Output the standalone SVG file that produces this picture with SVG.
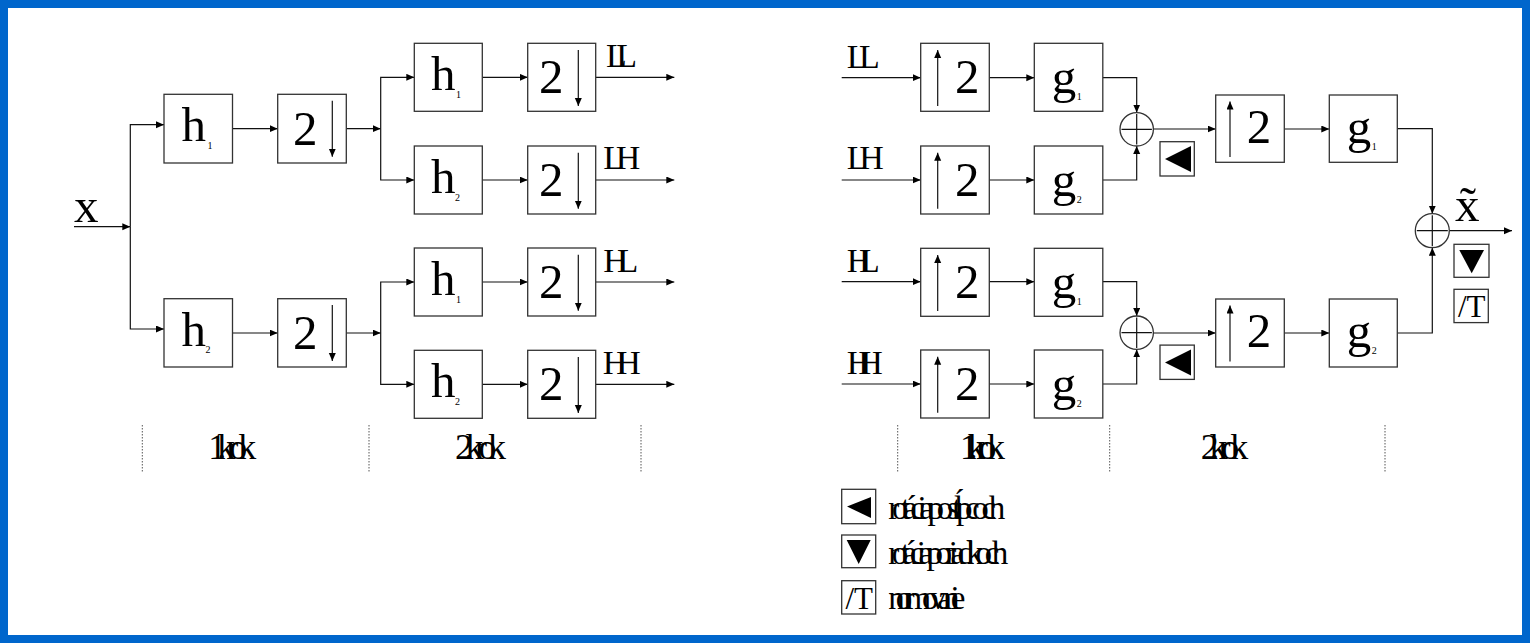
<svg xmlns="http://www.w3.org/2000/svg" width="1530" height="643" viewBox="0 0 1530 643">
<style>
.box{fill:#fff;stroke:#333;stroke-width:1.3}
.w{fill:none;stroke:#111;stroke-width:1.2}
.t{font-family:"Liberation Serif","Times New Roman",serif;fill:#000}
.big{font-size:49px}
.sub{font-size:10px}
.lbl{font-size:34px}
.step{font-size:36px}
.leg{font-size:33px}
.dot{stroke:#555;stroke-width:1;stroke-dasharray:1.5,1.5}
.tri{fill:#000}
</style>
<defs>
<marker id="ah" markerUnits="userSpaceOnUse" markerWidth="9" markerHeight="8" refX="8" refY="3.5" orient="auto">
<path d="M0,0 L8,3.5 L0,7 z" fill="#000"/>
</marker>
</defs>
<rect x="0" y="0" width="1530" height="643" fill="#0066CC"/>
<rect x="8" y="8" width="1514" height="627" fill="#fff"/>

<g id="connectors" class="w" marker-end="url(#ah)">
<path d="M74,226.7 H130.3"/>
<path d="M130.3,226.7 V124.7 H164"/>
<path d="M130.3,226.7 V329 H164"/>
<path d="M232.5,128.7 H277.7"/>
<path d="M232.5,333 H277.7"/>
<path d="M346.3,128.7 H380.7"/>
<path d="M346.3,333 H380.7"/>
<path d="M380.7,128.7 V77.3 H414.3"/>
<path d="M380.7,128.7 V180 H414.3"/>
<path d="M380.7,333 V282 H414.3"/>
<path d="M380.7,333 V384.3 H414.3"/>
<path d="M482.3,77.3 H527.7"/>
<path d="M482.3,180 H527.7"/>
<path d="M482.3,282 H527.7"/>
<path d="M482.3,384.3 H527.7"/>
<path d="M595.7,77.3 H674.3"/>
<path d="M595.7,180 H674.3"/>
<path d="M595.7,282 H674.3"/>
<path d="M595.7,384.3 H674.3"/>

<path d="M841.7,77.7 H920.7"/>
<path d="M841.7,180 H920.7"/>
<path d="M841.7,281.7 H920.7"/>
<path d="M841.7,384 H920.7"/>
<path d="M989.3,77.7 H1034.3"/>
<path d="M989.3,180 H1034.3"/>
<path d="M989.3,281.7 H1034.3"/>
<path d="M989.3,384 H1034.3"/>
<path d="M1102.8,77.7 H1136.7 V112.6"/>
<path d="M1102.8,180 H1136.7 V146"/>
<path d="M1102.8,281.7 H1136.7 V316"/>
<path d="M1102.8,384 H1136.7 V349.4"/>
<path d="M1153.4,129 H1215.7"/>
<path d="M1153.4,333 H1215.7"/>
<path d="M1284.3,129 H1329.3"/>
<path d="M1284.3,333 H1329.3"/>
<path d="M1397.3,128.7 H1432.3 V213.7"/>
<path d="M1397.3,333 H1432.3 V247.7"/>
<path d="M1449.3,230.7 H1512"/>
</g>

<g id="x-label"><text class="t big" x="74" y="222">x</text></g>

<g id="L1_h1"><rect class="box" x="164" y="94.3" width="68.5" height="68.7"/><text class="t big" x="181.5" y="141">h</text><text class="t sub" x="207.5" y="149">1</text></g>
<g id="L1_d1"><rect class="box" x="277.7" y="94.3" width="68.6" height="68.7"/><text class="t big" x="293" y="145">2</text><path class="w" d="M332.3,100.7 V156.7" marker-end="url(#ah)"/></g>
<g id="L1_h2"><rect class="box" x="164" y="298.7" width="68.5" height="68.3"/><text class="t big" x="181.5" y="345.5">h</text><text class="t sub" x="205.5" y="353">2</text></g>
<g id="L1_d2"><rect class="box" x="277.7" y="298.7" width="68.6" height="68.3"/><text class="t big" x="293" y="349">2</text><path class="w" d="M332.3,305 V361" marker-end="url(#ah)"/></g>

<g id="L2_h1a"><rect class="box" x="414.3" y="43.3" width="68" height="68"/><text class="t big" x="431" y="90">h</text><text class="t sub" x="456" y="98">1</text></g>
<g id="L2_d1a"><rect class="box" x="527.7" y="43.3" width="68" height="68"/><text class="t big" x="539" y="93">2</text><path class="w" d="M578.3,50 V106" marker-end="url(#ah)"/></g>
<g id="L2_h2a"><rect class="box" x="414.3" y="146" width="68" height="68"/><text class="t big" x="431" y="192.7">h</text><text class="t sub" x="455" y="201">2</text></g>
<g id="L2_d2a"><rect class="box" x="527.7" y="146" width="68" height="68"/><text class="t big" x="539" y="195.7">2</text><path class="w" d="M578.3,152.7 V208.7" marker-end="url(#ah)"/></g>
<g id="L2_h1b"><rect class="box" x="414.3" y="248" width="68" height="68"/><text class="t big" x="431" y="294.7">h</text><text class="t sub" x="456" y="303">1</text></g>
<g id="L2_d1b"><rect class="box" x="527.7" y="248" width="68" height="68"/><text class="t big" x="539" y="297.7">2</text><path class="w" d="M578.3,254.7 V310.7" marker-end="url(#ah)"/></g>
<g id="L2_h2b"><rect class="box" x="414.3" y="350.3" width="68" height="68"/><text class="t big" x="431" y="397">h</text><text class="t sub" x="455" y="405.3">2</text></g>
<g id="L2_d2b"><rect class="box" x="527.7" y="350.3" width="68" height="68"/><text class="t big" x="539" y="400">2</text><path class="w" d="M578.3,357 V413" marker-end="url(#ah)"/></g>

<g id="out-labels">
<text class="t lbl" x="606" y="67" textLength="31" lengthAdjust="spacing">LL</text>
<text class="t lbl" x="603.3" y="169" textLength="37" lengthAdjust="spacing">LH</text>
<text class="t lbl" x="603.3" y="271.5" textLength="35" lengthAdjust="spacing">HL</text>
<text class="t lbl" x="602.7" y="373.5" textLength="38" lengthAdjust="spacing">HH</text>
</g>

<g id="in-labels">
<text class="t lbl" x="846.7" y="67.5" textLength="33" lengthAdjust="spacing">LL</text>
<text class="t lbl" x="846.7" y="169" textLength="37" lengthAdjust="spacing">LH</text>
<text class="t lbl" x="846.7" y="271.5" textLength="33" lengthAdjust="spacing">HL</text>
<text class="t lbl" x="846.7" y="373.5" textLength="36" lengthAdjust="spacing">HH</text>
</g>

<g id="R1_uLL"><rect class="box" x="920.7" y="43.3" width="68.6" height="68"/><path class="w" d="M937.7,106 V50" marker-end="url(#ah)"/><text class="t big" x="955" y="93">2</text></g>
<g id="R1_gLL"><rect class="box" x="1034.3" y="43.3" width="68.5" height="68"/><text class="t big" x="1051.7" y="93">g</text><text class="t sub" x="1076.7" y="100">1</text></g>
<g id="R1_uLH"><rect class="box" x="920.7" y="146" width="68.6" height="68"/><path class="w" d="M937.7,208.7 V152.7" marker-end="url(#ah)"/><text class="t big" x="955" y="195.7">2</text></g>
<g id="R1_gLH"><rect class="box" x="1034.3" y="146" width="68.5" height="68"/><text class="t big" x="1051.7" y="195.7">g</text><text class="t sub" x="1076.7" y="203">2</text></g>
<g id="R1_uHL"><rect class="box" x="920.7" y="248.3" width="68.6" height="68"/><path class="w" d="M937.7,311 V255" marker-end="url(#ah)"/><text class="t big" x="955" y="298">2</text></g>
<g id="R1_gHL"><rect class="box" x="1034.3" y="248.3" width="68.5" height="68"/><text class="t big" x="1051.7" y="298">g</text><text class="t sub" x="1076.7" y="305.3">1</text></g>
<g id="R1_uHH"><rect class="box" x="920.7" y="350" width="68.6" height="68"/><path class="w" d="M937.7,412.7 V356.7" marker-end="url(#ah)"/><text class="t big" x="955" y="399.7">2</text></g>
<g id="R1_gHH"><rect class="box" x="1034.3" y="350" width="68.5" height="68"/><text class="t big" x="1051.7" y="399.7">g</text><text class="t sub" x="1076.7" y="407">2</text></g>

<g id="sum1"><circle class="box" cx="1136.7" cy="129.3" r="16.7"/><path class="w" d="M1121.5,129.3 H1151.9 M1136.7,114.1 V144.5"/></g>
<g id="sum2"><circle class="box" cx="1136.7" cy="332.7" r="16.7"/><path class="w" d="M1121.5,332.7 H1151.9 M1136.7,317.5 V347.9"/></g>
<g id="rot1"><rect class="box" x="1160" y="141.7" width="34.3" height="34.3"/><polygon class="tri" points="1165,159 1191,146 1191,172"/></g>
<g id="rot2"><rect class="box" x="1160" y="345.1" width="34.3" height="34.3"/><polygon class="tri" points="1165,362.4 1191,349.4 1191,375.4"/></g>

<g id="R2_u1"><rect class="box" x="1215.7" y="95" width="68.6" height="67.3"/><path class="w" d="M1230,157 V101.5" marker-end="url(#ah)"/><text class="t big" x="1246.7" y="143">2</text></g>
<g id="R2_g1"><rect class="box" x="1329.3" y="95" width="68" height="67.3"/><text class="t big" x="1346.7" y="143">g</text><text class="t sub" x="1371.7" y="150">1</text></g>
<g id="R2_u2"><rect class="box" x="1215.7" y="299" width="68.6" height="68"/><path class="w" d="M1230,361.5 V305.5" marker-end="url(#ah)"/><text class="t big" x="1246.7" y="347">2</text></g>
<g id="R2_g2"><rect class="box" x="1329.3" y="299" width="68" height="68"/><text class="t big" x="1346.7" y="347">g</text><text class="t sub" x="1371.7" y="354">2</text></g>

<g id="sum3"><circle class="box" cx="1432.3" cy="230.7" r="17"/><path class="w" d="M1416.8,230.7 H1447.8 M1432.3,215.2 V246.2"/></g>
<g id="xt-label"><text class="t big" x="1455" y="220.7">x̃</text></g>
<g id="rotdown"><rect class="box" x="1454" y="244.3" width="35" height="33"/><polygon class="tri" points="1459.3,250 1484,250 1471.7,273.3"/></g>
<g id="norm"><rect class="box" x="1454" y="289.3" width="34.3" height="33.3"/><text class="t" font-size="31" x="1458" y="317">/T</text></g>

<g id="steps">
<path class="dot" d="M142.3,425 V472 M369,425 V472 M641,425 V472 M897.7,425 V472 M1109.7,425 V472 M1385,425 V472"/>
<text class="t step" x="208.3" y="459.3" textLength="48" lengthAdjust="spacing">1. krok</text>
<text class="t step" x="455" y="459.3" textLength="51" lengthAdjust="spacing">2. krok</text>
<text class="t step" x="960" y="459.3" textLength="45" lengthAdjust="spacing">1. krok</text>
<text class="t step" x="1200.7" y="459.3" textLength="47.6" lengthAdjust="spacing">2. krok</text>
</g>

<g id="legend1"><rect class="box" x="841.7" y="489.3" width="34" height="34.4"/><polygon class="tri" points="847,506.5 871,497 871,518"/><text class="t leg" x="888.3" y="519.3" textLength="117" lengthAdjust="spacing">rotácia po stĺpcoch</text></g>
<g id="legend2"><rect class="box" x="841.7" y="535" width="34" height="32.7"/><polygon class="tri" points="846.7,540 870.7,540 858.7,564"/><text class="t leg" x="888.3" y="564" textLength="120" lengthAdjust="spacing">rotácia po riadkoch</text></g>
<g id="legend3"><rect class="box" x="841.7" y="580.7" width="34" height="33.3"/><text class="t" font-size="31" x="845.5" y="608.5">/T</text><text class="t leg" x="888.3" y="609.3" textLength="77" lengthAdjust="spacing">normovanie</text></g>
</svg>
